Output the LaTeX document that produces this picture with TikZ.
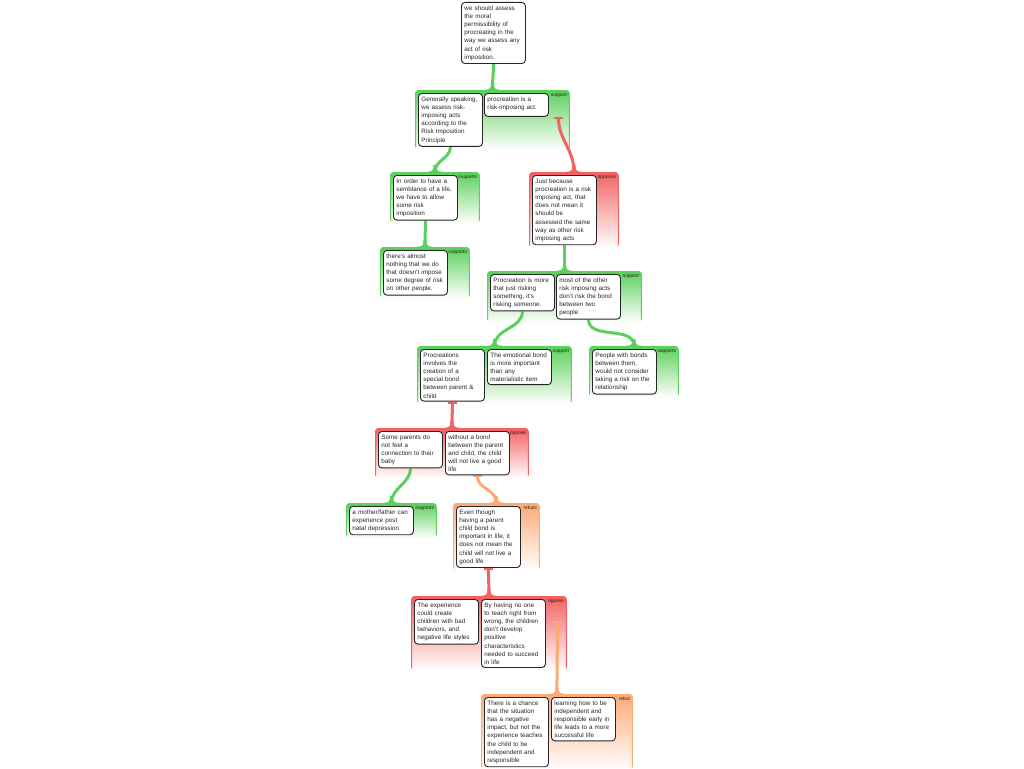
\documentclass[tikz,border=0pt]{standalone}
\usepackage{fontspec}
\setmainfont{Liberation Sans}
\usetikzlibrary{positioning, fit, calc, backgrounds, arrows.meta}

\definecolor{supgreen}{RGB}{92,208,92}
\definecolor{objred}{RGB}{242,98,98}
\definecolor{rebutorange}{RGB}{252,170,118}

% widening where a link meets a group
\newcommand{\flare}[2]{%
  \fill[#1] ([xshift=-8pt]#2.north) .. controls ([xshift=-2pt]#2.north) and ([xshift=-1.5pt,yshift=2pt]#2.north) .. ([xshift=-1.5pt,yshift=7pt]#2.north)
    -- ([xshift=1.5pt,yshift=7pt]#2.north) .. controls ([xshift=1.5pt,yshift=2pt]#2.north) and ([xshift=2pt]#2.north) .. ([xshift=8pt]#2.north) -- cycle;}

\begin{document}
\begin{tikzpicture}[x=1pt, y=-1pt,
  box/.style={draw=black!85, line width=0.9pt, rounded corners=3.5pt, fill=white,
    anchor=north west, text width=58pt, align=left, inner xsep=3pt, inner ysep=3pt,
    font=\fontsize{6.3}{8.2}\selectfont, text=black!85},
  group/.style={rounded corners=4pt, top color=#1, bottom color=white, inner sep=3pt,
    path picture={
      \draw[#1, line width=2pt] (path picture bounding box.south west) -- (path picture bounding box.north west)
        -- (path picture bounding box.north east) -- (path picture bounding box.south east);
      \fill[#1] (path picture bounding box.north west) rectangle ([yshift=-5pt]path picture bounding box.north east);}},
  tag/.style={anchor=north east, inner xsep=3pt, inner ysep=3.5pt, font=\fontsize{4.8}{5.5}\selectfont, text=black!85},
  link/.style={draw=#1, line width=3pt},
  bar/.style={{Bar[width=9pt,line width=2pt]}-}
  ]
  \useasboundingbox (0,0) rectangle (1024,768);

  % claims
  \node[box] (claim) at (461,2) {we should assess\\the moral\\permissibility of\\procreating in the\\way we assess any\\act of risk\\imposition.};
  \node[box] (gen) at (418,93) {Generally speaking,\\we assess risk-\\imposing acts\\according to the\\Risk Imposition\\Principle};
  \node[box] (proc) at (484,93) {procreation is a\\risk-imposing act.\\[-4pt]\mbox{}};
  \node[box] (order) at (393,175) {In order to have a\\semblance of a life,\\we have to allow\\some risk\\imposition};
  \node[box] (almost) at (383,250) {there's almost\\nothing that we do\\that doesn't impose\\some degree of risk\\on other people.};
  \node[box] (just) at (532,175) {Just because\\procreation is a risk\\imposing act, that\\does not mean it\\should be\\assessed the same\\way as other risk\\imposing acts};
  \node[box] (more) at (490,274) {Procreation is more\\that just risking\\something, it's\\risking someone.};
  \node[box] (bond) at (556,274) {most of the other\\risk imposing acts\\don't risk the bond\\between two\\people};
  \node[box] (special) at (420,349) {Procreations\\involves the\\creation of a\\special bond\\between parent \&\\child};
  \node[box] (emo) at (487,349) {The emotional bond\\is more important\\than any\\materialistic item};
  \node[box] (people) at (592,349) {People with bonds\\between them,\\would not consider\\taking a risk on the\\relationship};
  \node[box] (nofeel) at (378,431) {Some parents do\\not feel a\\connection to their\\baby};
  \node[box] (without) at (445,431) {without a bond\\between the parent\\and child, the child\\will not live a good\\life};
  \node[box] (depress) at (349,506) {a mother/father can\\experience post\\natal depression};
  \node[box] (though) at (456,506) {Even though\\having a parent\\child bond is\\important in life, it\\does not mean the\\child will not live a\\good life};
  \node[box] (exper) at (414,599) {The experience\\could create\\children with bad\\behaviors, and\\negative life styles};
  \node[box] (noone) at (481,599) {By having no one\\to teach right from\\wrong, the children\\don't develop\\positive\\characteristics\\needed to succeed\\in life};
  \node[box] (chance) at (484,697) {There is a chance\\that the situation\\has a negative\\impact, but not the\\experience teaches\\the child to be\\independent and\\responsible};
  \node[box] (learn) at (551,697) {learning how to be\\independent and\\responsible early in\\life leads to a more\\successful life};

  \coordinate (procfoot) at ([xshift=42pt]proc.south);
  \coordinate (noonefoot) at ([xshift=44pt,yshift=-22pt]noone.north);

  \begin{scope}[on background layer]
    % groups
    \node[group=supgreen, fit={(gen) (proc) ($(proc.north east)+(18,0)$)}, label={[tag]north east:support}] (g1) {};
    \node[group=supgreen, fit={(order) ($(order.north east)+(19,0)$)}, label={[tag]north east:supports}] (g2) {};
    \node[group=supgreen, fit={(almost) ($(almost.north east)+(19,0)$)}, label={[tag]north east:supports}] (g3) {};
    \node[group=objred, fit={(just) ($(just.north east)+(19,0)$)}, label={[tag]north east:opposes}] (g4) {};
    \node[group=supgreen, fit={(more) (bond) ($(bond.north east)+(18,0)$)}, label={[tag]north east:support}] (g5) {};
    \node[group=supgreen, fit={(special) (emo) ($(emo.north east)+(17,0)$)}, label={[tag]north east:support}] (g6) {};
    \node[group=supgreen, fit={(people) ($(people.north east)+(19,0)$)}, label={[tag]north east:supports}] (g7) {};
    \node[group=objred, fit={(nofeel) (without) ($(without.north east)+(16,0)$)}, label={[tag]north east:oppose}] (g8) {};
    \node[group=supgreen, fit={(depress) ($(depress.north east)+(20,0)$)}, label={[tag]north east:supports}] (g9) {};
    \node[group=rebutorange, fit={(though) ($(though.north east)+(16,0)$)}, label={[tag]north east:rebuts}] (g10) {};
    \node[group=objred, fit={(exper) (noone) ($(noone.north east)+(18,0)$)}, label={[tag]north east:oppose}] (g11) {};
    \node[group=rebutorange, fit={(chance) (learn) ($(learn.north east)+(14,0)$)}, label={[tag]north east:rebut}] (g12) {};

    % links
    \draw[link=supgreen] (claim.south) to[out=-90,in=90] (g1.north);
    \draw[link=supgreen] (gen.south) to[out=-90,in=90] (g2.north);
    \draw[link=supgreen] (order.south) to[out=-90,in=90] (g3.north);
    \draw[link=objred, bar] (procfoot) to[out=-90,in=90] (g4.north);
    \draw[link=supgreen] (just.south) to[out=-90,in=90] (g5.north);
    \draw[link=supgreen] (more.south) to[out=-90,in=90] (g6.north);
    \draw[link=supgreen] (bond.south) to[out=-90,in=90] (g7.north);
    \draw[link=objred, bar] (special.south) to[out=-90,in=90] (g8.north);
    \draw[link=supgreen] (nofeel.south) to[out=-90,in=90] (g9.north);
    \draw[link=rebutorange, bar] (without.south) to[out=-90,in=90] (g10.north);
    \draw[link=objred, bar] (though.south) to[out=-90,in=90] (g11.north);
    \draw[link=rebutorange, bar] (noonefoot) to[out=-90,in=90] (g12.north);
    \flare{supgreen}{g1} \flare{supgreen}{g2} \flare{supgreen}{g3} \flare{objred}{g4}
    \flare{supgreen}{g5} \flare{supgreen}{g6} \flare{supgreen}{g7} \flare{objred}{g8}
    \flare{supgreen}{g9} \flare{rebutorange}{g10} \flare{objred}{g11} \flare{rebutorange}{g12}
  \end{scope}
\end{tikzpicture}
\end{document}
